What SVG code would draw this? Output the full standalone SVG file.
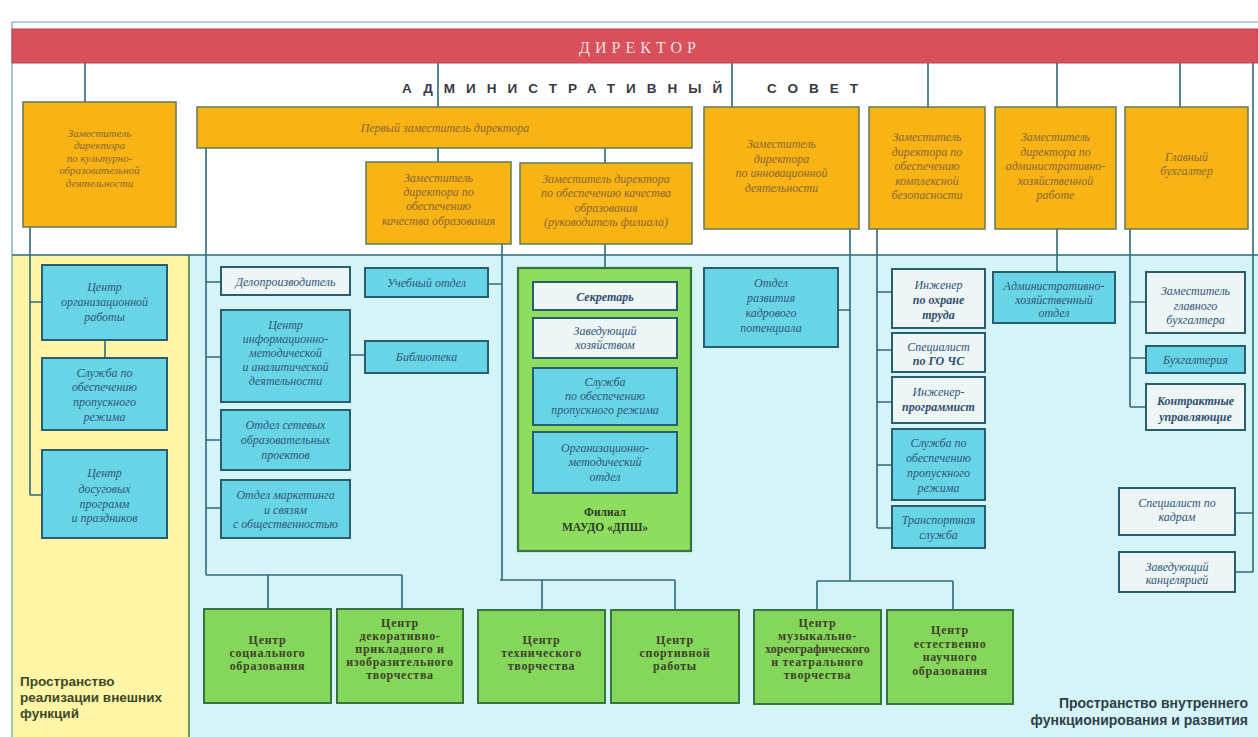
<svg xmlns="http://www.w3.org/2000/svg" width="1258" height="737" viewBox="0 0 1258 737">
<defs>
<style>
.conn{stroke:#2e6a7a;stroke-width:1.6;fill:none}
.frame{stroke:#6f9fae;stroke-width:1.2;fill:none}
.or{fill:#f8b314;stroke:#5f7c56;stroke-width:1.5}
.cy{fill:#68d5e7;stroke:#2a5d6f;stroke-width:2}
.wh{fill:#eef5f5;stroke:#2a5d6f;stroke-width:2}
.gr{fill:#84d75a;stroke:#3a7342;stroke-width:2}
.grb{fill:#8ddd5e;stroke:#3a7342;stroke-width:2.2}
text{font-family:"Liberation Serif","DejaVu Serif",serif;text-anchor:middle}
.ot{font-size:12px;font-style:italic;fill:#8a6634}
.ots{font-size:11px}
.ct{font-size:12px;font-style:italic;fill:#2f5679}
.cb{font-size:12px;font-style:italic;font-weight:bold;fill:#2f4f6f}
.gt{font-size:12px;font-weight:bold;fill:#3e4229;letter-spacing:0.7px}
.tight{letter-spacing:0px}
.ft{font-size:11.5px;font-weight:bold;fill:#2f3a2a}
.lab{font-family:"Liberation Sans",Arial,sans-serif;font-size:13.5px;font-weight:bold}
.labl{text-anchor:start;fill:#3b4a27}
.labr{text-anchor:end;fill:#2f3f4a;font-size:14px}
.council{font-family:"Liberation Sans",Arial,sans-serif;font-size:13.5px;font-weight:bold;fill:#363946;letter-spacing:11px;text-anchor:start}
</style>
</defs>
<rect x="0" y="0" width="1258" height="737" fill="#ffffff"/>
<g id="background">
<rect x="12" y="255" width="178" height="482" fill="#fff5a6"/>
<rect x="190" y="255" width="1068" height="482" fill="#d4f4f7"/>
<path class="frame" d="M12 22H1258M12 22V737"/>
<path d="M189 255V737" stroke="#4f7a55" stroke-width="1.6"/>
<path class="conn" d="M12 255H1258"/>
</g>
<g id="director">
<rect x="12" y="29" width="1246" height="34" fill="#d8505c" stroke="#b9434d" stroke-width="1"/>
<text x="640" y="53" font-size="16" fill="#f6dede" letter-spacing="5">ДИРЕКТОР</text>
</g>
<g id="council">
<text class="council" x="402" y="93">АДМИНИСТРАТИВНЫЙ</text>
<text class="council" x="767" y="93">СОВЕТ</text>
</g>
<g id="connectors">
<path class="conn" d="M85 63V102M438 63V107M732 63V107M928 63V107M1057 63V107M1180 63V107M1253 63V572"/>
<path class="conn" d="M30 227V495M30 302H42M30 495H42M105 340V358"/>
<path class="conn" d="M206 148V575M206 282H221M206 357H221M206 440H221M206 508H221M206 575H402M268 575V609M402 575V609"/>
<path class="conn" d="M438 148V162M605 148V163"/>
<path class="conn" d="M502 244V580M488 284H502M500 580H675M542 580V610M675 580V610M350 355H365"/>
<path class="conn" d="M605 244V268"/>
<path class="conn" d="M850 229V581M838 310H850M817 581H953M817 581V610M953 581V610"/>
<path class="conn" d="M877 229V528M877 292H892M877 350H892M877 402H892M877 465H892M877 528H892"/>
<path class="conn" d="M1057 229V272"/>
<path class="conn" d="M1130 229V407M1130 302H1146M1130 358H1146M1130 407H1146"/>
<path class="conn" d="M1235 513H1253M1235 572H1253"/>
</g>
<g id="n-dep-culture"><rect class="or" x="23" y="102" width="153" height="125"/>
<text class="ot ots" x="99.5" y="136.5">Заместитель</text><text class="ot ots" x="99.5" y="149">директора</text><text class="ot ots" x="99.5" y="161.5">по культурно-</text><text class="ot ots" x="99.5" y="174">образовательной</text><text class="ot ots" x="99.5" y="186.5">деятельности</text></g>
<g id="n-first-dep"><rect class="or" x="197" y="107" width="495" height="41"/>
<text class="ot" x="445" y="131.5">Первый заместитель директора</text></g>
<g id="n-dep-quality"><rect class="or" x="366" y="162" width="145" height="82"/>
<text class="ot" x="438.5" y="181.5">Заместитель</text><text class="ot" x="438.5" y="195.5">директора по</text><text class="ot" x="438.5" y="210">обеспечению</text><text class="ot" x="438.5" y="224.5">качества образования</text></g>
<g id="n-dep-branch"><rect class="or" x="520" y="163" width="172" height="81"/>
<text class="ot" x="606" y="183">Заместитель директора</text><text class="ot" x="606" y="197">по обеспечению качества</text><text class="ot" x="606" y="211.5">образования</text><text class="ot" x="606" y="226">(руководитель филиала)</text></g>
<g id="n-dep-innov"><rect class="or" x="704" y="107" width="155" height="122"/>
<text class="ot" x="781.5" y="148">Заместитель</text><text class="ot" x="781.5" y="162.5">директора</text><text class="ot" x="781.5" y="177">по инновационной</text><text class="ot" x="781.5" y="191.5">деятельности</text></g>
<g id="n-dep-safety"><rect class="or" x="869" y="107" width="116" height="122"/>
<text class="ot" x="927" y="141">Заместитель</text><text class="ot" x="927" y="155.5">директора по</text><text class="ot" x="927" y="170">обеспечению</text><text class="ot" x="927" y="184.5">комплексной</text><text class="ot" x="927" y="199">безопасности</text></g>
<g id="n-dep-admin"><rect class="or" x="995" y="107" width="121" height="122"/>
<text class="ot" x="1055.5" y="141">Заместитель</text><text class="ot" x="1055.5" y="155.5">директора по</text><text class="ot" x="1055.5" y="170">административно-</text><text class="ot" x="1055.5" y="184.5">хозяйственной</text><text class="ot" x="1055.5" y="199">работе</text></g>
<g id="n-chief-acc"><rect class="or" x="1125" y="107" width="123" height="122"/>
<text class="ot" x="1186.5" y="161">Главный</text><text class="ot" x="1186.5" y="175">бухгалтер</text></g>

<g id="n-org"><rect class="cy" x="42" y="265" width="125" height="75"/>
<text class="ct" x="104.5" y="290.5">Центр</text><text class="ct" x="104.5" y="305.5">организационной</text><text class="ct" x="104.5" y="320.5">работы</text></g>
<g id="n-security-l"><rect class="cy" x="42" y="358" width="125" height="72"/>
<text class="ct" x="104.5" y="376.5">Служба по</text><text class="ct" x="104.5" y="390.5">обеспечению</text><text class="ct" x="104.5" y="405.5">пропускного</text><text class="ct" x="104.5" y="420.5">режима</text></g>
<g id="n-leisure"><rect class="cy" x="42" y="450" width="125" height="88"/>
<text class="ct" x="104.5" y="476.5">Центр</text><text class="ct" x="104.5" y="492.5">досуговых</text><text class="ct" x="104.5" y="507.5">программ</text><text class="ct" x="104.5" y="521.5">и праздников</text></g>
<g id="n-clerk"><rect class="wh" x="221" y="267" width="129" height="28"/>
<text class="ct" x="285.5" y="285.5">Делопроизводитель</text></g>
<g id="n-info"><rect class="cy" x="221" y="310" width="129" height="92"/>
<text class="ct" x="285.5" y="329">Центр</text><text class="ct" x="285.5" y="343">информационно-</text><text class="ct" x="285.5" y="357">методической</text><text class="ct" x="285.5" y="371">и аналитической</text><text class="ct" x="285.5" y="385">деятельности</text></g>
<g id="n-network"><rect class="cy" x="221" y="410" width="129" height="60"/>
<text class="ct" x="285.5" y="428.5">Отдел сетевых</text><text class="ct" x="285.5" y="443.5">образовательных</text><text class="ct" x="285.5" y="458.5">проектов</text></g>
<g id="n-marketing"><rect class="cy" x="221" y="480" width="129" height="58"/>
<text class="ct" x="285.5" y="498.5">Отдел маркетинга</text><text class="ct" x="285.5" y="513.5">и связям</text><text class="ct" x="285.5" y="527.5">с общественностью</text></g>
<g id="n-study"><rect class="cy" x="365" y="268" width="123" height="29"/>
<text class="ct" x="426.5" y="286.5">Учебный отдел</text></g>
<g id="n-library"><rect class="cy" x="365" y="341" width="123" height="32"/>
<text class="ct" x="426.5" y="361">Библиотека</text></g>
<g id="n-branch"><rect class="grb" x="518" y="268" width="173" height="283"/>
<text class="ft" x="605" y="516">Филиал</text><text class="ft" x="605" y="531">МАУДО «ДПШ»</text></g>
<g id="n-secretary"><rect class="wh" x="533" y="282" width="144" height="28"/>
<text class="cb" x="605" y="300.5">Секретарь</text></g>
<g id="n-household"><rect class="wh" x="533" y="318" width="144" height="40"/>
<text class="ct" x="605" y="335">Заведующий</text><text class="ct" x="605" y="349">хозяйством</text></g>
<g id="n-security-b"><rect class="cy" x="533" y="368" width="144" height="57"/>
<text class="ct" x="605" y="385.5">Служба</text><text class="ct" x="605" y="400">по обеспечению</text><text class="ct" x="605" y="414">пропускного режима</text></g>
<g id="n-orgmethod"><rect class="cy" x="533" y="432" width="144" height="61"/>
<text class="ct" x="605" y="451.5">Организационно-</text><text class="ct" x="605" y="466">методический</text><text class="ct" x="605" y="480.5">отдел</text></g>
<g id="n-hr-dev"><rect class="cy" x="704" y="268" width="134" height="79"/>
<text class="ct" x="771" y="286.5">Отдел</text><text class="ct" x="771" y="301.5">развития</text><text class="ct" x="771" y="316.5">кадрового</text><text class="ct" x="771" y="331.5">потенциала</text></g>
<g id="n-eng-safety"><rect class="wh" x="892" y="269" width="93" height="59"/>
<text class="ct" x="938.5" y="288.5">Инженер</text><text class="cb" x="938.5" y="303.5">по охране</text><text class="cb" x="938.5" y="318.5">труда</text></g>
<g id="n-go"><rect class="wh" x="892" y="333" width="93" height="39"/>
<text class="ct" x="938.5" y="350.5">Специалист</text><text class="cb" x="938.5" y="365">по ГО ЧС</text></g>
<g id="n-prog"><rect class="wh" x="892" y="377" width="93" height="46"/>
<text class="ct" x="938.5" y="395.5">Инженер-</text><text class="cb" x="938.5" y="410.5">программист</text></g>
<g id="n-security-r"><rect class="cy" x="892" y="429" width="93" height="71"/>
<text class="ct" x="938.5" y="446.5">Служба по</text><text class="ct" x="938.5" y="461.5">обеспечению</text><text class="ct" x="938.5" y="476.5">пропускного</text><text class="ct" x="938.5" y="491.5">режима</text></g>
<g id="n-transport"><rect class="cy" x="892" y="506" width="93" height="42"/>
<text class="ct" x="938.5" y="523.5">Транспортная</text><text class="ct" x="938.5" y="538.5">служба</text></g>
<g id="n-admin-dept"><rect class="cy" x="993" y="272" width="122" height="51"/>
<text class="ct" x="1054" y="289.5">Административно-</text><text class="ct" x="1054" y="303.5">хозяйственный</text><text class="ct" x="1054" y="317">отдел</text></g>
<g id="n-dep-acc"><rect class="wh" x="1146" y="272" width="99" height="61"/>
<text class="ct" x="1195.5" y="295">Заместитель</text><text class="ct" x="1195.5" y="309.5">главного</text><text class="ct" x="1195.5" y="324">бухгалтера</text></g>
<g id="n-accounting"><rect class="cy" x="1146" y="346" width="99" height="27"/>
<text class="ct" x="1195.5" y="363.5">Бухгалтерия</text></g>
<g id="n-contract"><rect class="wh" x="1146" y="384" width="99" height="46"/>
<text class="cb" x="1195.5" y="404.5">Контрактные</text><text class="cb" x="1195.5" y="420.5">управляющие</text></g>
<g id="n-hr-spec"><rect class="wh" x="1119" y="488" width="116" height="47"/>
<text class="ct" x="1177" y="507">Специалист по</text><text class="ct" x="1177" y="521">кадрам</text></g>
<g id="n-office"><rect class="wh" x="1119" y="552" width="116" height="40"/>
<text class="ct" x="1177" y="570.5">Заведующий</text><text class="ct" x="1177" y="584">канцелярией</text></g>

<g id="n-social"><rect class="gr" x="204" y="609" width="127" height="94"/>
<text class="gt" x="267.5" y="643.5">Центр</text><text class="gt" x="267.5" y="656.5">социального</text><text class="gt" x="267.5" y="669.5">образования</text></g>
<g id="n-decor"><rect class="gr" x="337" y="609" width="126" height="94"/>
<text class="gt" x="400" y="626.5">Центр</text><text class="gt" x="400" y="639.5">декоративно-</text><text class="gt" x="400" y="652.5">прикладного и</text><text class="gt" x="400" y="665.5">изобразительного</text><text class="gt" x="400" y="678.5">творчества</text></g>
<g id="n-tech"><rect class="gr" x="478" y="610" width="127" height="93"/>
<text class="gt" x="541.5" y="643.5">Центр</text><text class="gt" x="541.5" y="656.5">технического</text><text class="gt" x="541.5" y="670">творчества</text></g>
<g id="n-sport"><rect class="gr" x="611" y="610" width="128" height="93"/>
<text class="gt" x="675" y="643.5">Центр</text><text class="gt" x="675" y="656.5">спортивной</text><text class="gt" x="675" y="670">работы</text></g>
<g id="n-music"><rect class="gr" x="754" y="610" width="127" height="94"/>
<text class="gt" x="817.5" y="627">Центр</text><text class="gt" x="817.5" y="640">музыкально-</text><text class="gt tight" x="817.5" y="653">хореографического</text><text class="gt" x="817.5" y="666">и театрального</text><text class="gt" x="817.5" y="679">творчества</text></g>
<g id="n-science"><rect class="gr" x="887" y="610" width="126" height="94"/>
<text class="gt" x="950" y="634">Центр</text><text class="gt" x="950" y="647.5">естественно</text><text class="gt" x="950" y="661">научного</text><text class="gt" x="950" y="674.5">образования</text></g>

<g id="labels">
<text class="lab labl" x="20" y="686">Пространство</text>
<text class="lab labl" x="20" y="702">реализации внешних</text>
<text class="lab labl" x="20" y="718">функций</text>
<text class="lab labr" x="1248" y="708">Пространство внутреннего</text>
<text class="lab labr" x="1248" y="725">функционирования и развития</text>
</g>
</svg>
